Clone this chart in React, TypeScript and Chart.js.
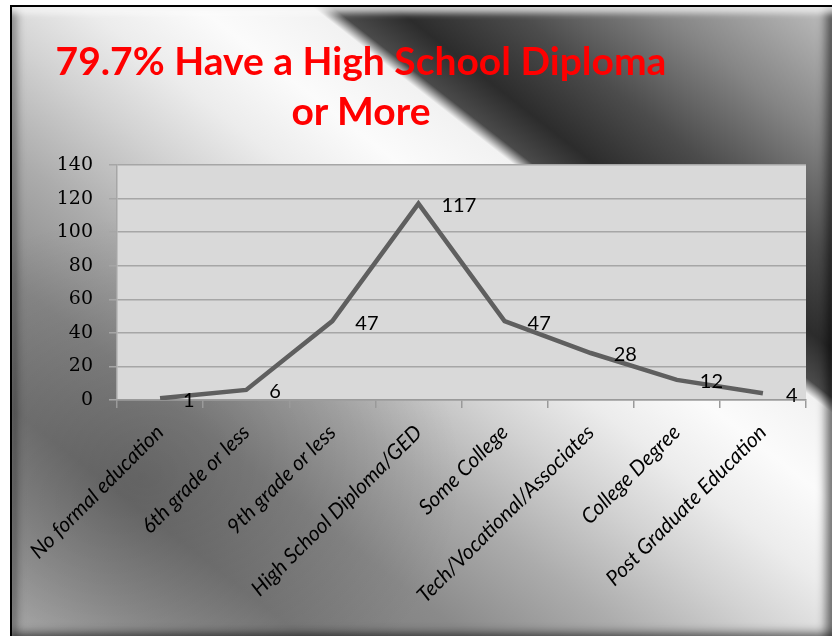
import React, { useEffect, useRef } from 'react';
import { Chart, registerables } from 'chart.js';

Chart.register(...registerables);

const categories = [
  'No formal education',
  '6th grade or less',
  '9th grade or less',
  'High School Diploma/GED',
  'Some College',
  'Tech/Vocational/Associates',
  'College Degree',
  'Post Graduate Education',
];
const counts = [1, 6, 47, 117, 47, 28, 12, 4];
const yMin = 0;
const yMax = 140;
const yStep = 20;
const titleLines = ['79.7% Have a High School Diploma', 'or More'];

const plotBg = {
  id: 'plotBg',
  beforeDraw(chart: any) {
    const { ctx, chartArea } = chart;
    ctx.save();
    ctx.fillStyle = '#d9d9d9';
    ctx.fillRect(chartArea.left, chartArea.top, chartArea.right - chartArea.left, chartArea.bottom - chartArea.top);
    ctx.restore();
  },
};

const dataLabels = {
  id: 'dataLabels',
  afterDatasetsDraw(chart: any) {
    const { ctx } = chart;
    const meta = chart.getDatasetMeta(0);
    const data = chart.data.datasets[0].data;
    ctx.save();
    ctx.font = '20px Lato, "Noto Sans", sans-serif';
    ctx.fillStyle = '#000';
    ctx.textAlign = 'left';
    ctx.textBaseline = 'middle';
    meta.data.forEach((pt: any, i: number) => {
      ctx.fillText(String(data[i]), pt.x + 23, pt.y + 2);
    });
    ctx.restore();
  },
};

export default function App() {
  const ref = useRef<HTMLCanvasElement | null>(null);

  useEffect(() => {
    if (!ref.current) return;
    const chart = new Chart(ref.current, {
      type: 'line',
      data: {
        labels: categories,
        datasets: [
          {
            data: counts,
            borderColor: '#5f5f5f',
            borderWidth: 4.5,
            pointRadius: 0,
            tension: 0,
            fill: false,
          },
        ],
      },
      options: {
        animation: false,
        responsive: false,
        layout: { padding: { top: 158, left: 45, right: 28, bottom: 0 } },
        plugins: {
          legend: { display: false },
          title: { display: false },
          tooltip: { enabled: false },
        },
        scales: {
          x: {
            offset: true,
            grid: {
              offset: true,
              drawOnChartArea: false,
              drawTicks: true,
              tickLength: 8,
              color: '#9a9a9a',
              lineWidth: 1.5,
            },
            border: { color: '#9a9a9a', width: 1.5 },
            ticks: {
              autoSkip: false,
              maxRotation: 45,
              minRotation: 45,
              padding: 12,
              color: '#000',
              font: { family: 'Lato, "Noto Sans", sans-serif', size: 21, style: 'italic' },
            },
            afterFit: (scale: any) => {
              scale.height = 238;
            },
          },
          y: {
            min: yMin,
            max: yMax,
            grid: {
              color: '#a6a6a6',
              lineWidth: 1.5,
              tickLength: 8,
            },
            border: { color: '#a6a6a6', width: 1.5 },
            ticks: {
              stepSize: yStep,
              padding: 16,
              color: '#000',
              font: { family: '"DejaVu Serif", serif', size: 19 },
            },
            afterFit: (scale: any) => {
              scale.width = 60;
            },
          },
        },
      },
      plugins: [plotBg, dataLabels],
    });
    return () => chart.destroy();
  }, []);

  const slideStyle: React.CSSProperties = {
    position: 'absolute',
    left: 10,
    top: 5,
    width: 826,
    height: 635,
    boxSizing: 'border-box',
    border: '2px solid #000',
    overflow: 'hidden',
    background:
      'radial-gradient(ellipse 320px 260px at 130px 470px, rgba(0,0,0,0.22), rgba(0,0,0,0) 100%),' +
      'linear-gradient(38deg, #b4b4b4 0%, #9a9a9a 8%, #7c7c7c 18%, #8a8a8a 28%, #acacac 38%, #d2d2d2 47%, #ececec 54%, #fbfbfb 61%, #f2f2f2 68%, #4a4a4a 69.2%, #2c2c2c 73%, #4c4c4c 80%, #858585 89%, #c0c0c0 100%)',
    boxShadow:
      'inset 0 9px 6px -3px rgba(255,255,255,0.75), inset 9px 0 8px -4px rgba(0,0,0,0.35), inset -12px 0 10px -4px rgba(0,0,0,0.55), inset 0 -10px 9px -4px rgba(0,0,0,0.45)',
  };

  const titleStyle: React.CSSProperties = {
    position: 'absolute',
    left: 0,
    top: 28,
    width: 698,
    textAlign: 'center',
    color: '#ff0000',
    fontFamily: 'Lato, "Noto Sans", sans-serif',
    fontWeight: 700,
    fontSize: 39,
    lineHeight: '50px',
    whiteSpace: 'nowrap',
    pointerEvents: 'none',
  };

  return (
    <div style={slideStyle}>
      <canvas ref={ref} width={822} height={631} style={{ display: 'block', position: 'absolute', left: 0, top: 0 }} />
      <div style={titleStyle}>
        {titleLines.map((t, i) => (
          <div key={i}>{t}</div>
        ))}
      </div>
    </div>
  );
}
